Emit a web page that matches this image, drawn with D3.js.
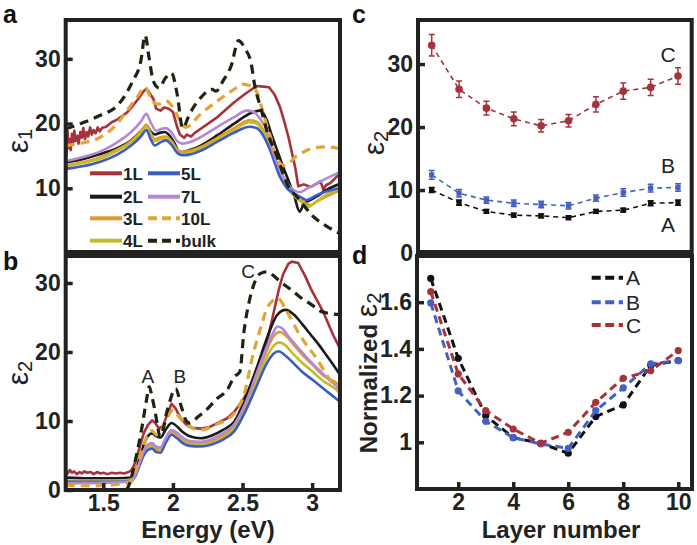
<!DOCTYPE html>
<html><head><meta charset="utf-8">
<script src="https://cdn.jsdelivr.net/npm/d3@7"></script>
<style>body{margin:0;background:#fff} svg{display:block} text{font-family:"Liberation Sans",Arial,sans-serif}</style>
</head><body><svg id="chart" width="697" height="545"></svg>
<script>
// ---------- DATA ----------
const energyTicks = [1.5, 2, 2.5, 3];
const eps1Ticks = [10, 20, 30];
const eps2Ticks = [0, 10, 20, 30];
const layerTicks = [2, 4, 6, 8, 10];
const normTicks = [1, 1.2, 1.4, 1.6];
const seriesNames = ["1L", "2L", "3L", "4L", "5L", "7L", "10L", "bulk"];
const seriesColors = ["#a8323a", "#1a1a1a", "#e0992a", "#c4ba2c", "#3b5cc6", "#b489d4", "#e3a436", "#1d2510"];
const seriesDashed = [false, false, false, false, false, false, true, true];

// panel a : epsilon1 vs energy (eV)
const e1_1L = [[1.23,17.8],[1.235,15.0],[1.243,18.9],[1.25,16.2],[1.258,17.6],[1.266,15.9],[1.275,18.4],[1.283,17.1],[1.292,18.9],[1.30,17.3],[1.312,18.1],[1.322,16.9],[1.335,18.7],[1.345,17.8],[1.356,19.3],[1.368,17.6],[1.38,18.7],[1.392,18.0],[1.405,19.4],[1.418,18.3],[1.43,19.0],[1.445,18.5],[1.46,19.4],[1.475,18.8],[1.49,19.3],[1.52,19.5],[1.56,20.2],[1.6,20.6],[1.67,21.7],[1.74,23.5],[1.79,25.0],[1.81,25.4],[1.83,24.8],[1.86,23.8],[1.88,22.3],[1.91,22.0],[1.94,22.5],[1.97,22.3],[2.0,21.8],[2.03,19.5],[2.05,18.3],[2.08,17.8],[2.1,18.3],[2.13,18.0],[2.16,18.6],[2.2,19.2],[2.32,21.0],[2.44,23.3],[2.52,24.6],[2.6,25.8],[2.65,25.7],[2.69,25.6],[2.73,24.5],[2.77,22.5],[2.8,20.3],[2.83,17.9],[2.86,15.0],[2.88,13.0],[2.9,10.3],[2.94,10.6],[2.99,10.2],[3.04,10.8],[3.06,11.1],[3.08,9.8],[3.1,10.5],[3.13,10.8],[3.2,12.3]];
const e1_2L = [[1.23,14.0],[1.35,14.5],[1.48,15.3],[1.6,16.2],[1.7,17.4],[1.77,18.8],[1.81,19.7],[1.84,18.8],[1.87,18.3],[1.91,18.6],[1.94,18.7],[1.97,18.3],[2.01,17.0],[2.04,15.8],[2.07,15.6],[2.12,15.9],[2.2,16.6],[2.32,18.2],[2.44,20.0],[2.57,21.7],[2.63,22.0],[2.675,20.5],[2.71,18.2],[2.75,15.8],[2.79,13.4],[2.83,11.2],[2.87,8.9],[2.91,6.4],[2.94,7.6],[2.97,8.0],[3.03,8.7],[3.1,9.7],[3.2,10.7]];
const e1_3L = [[1.23,13.5],[1.35,14.0],[1.48,14.8],[1.6,16.0],[1.7,17.3],[1.77,18.8],[1.81,19.8],[1.84,18.5],[1.87,17.6],[1.91,17.9],[1.95,18.0],[1.99,17.3],[2.03,16.0],[2.07,15.6],[2.12,15.8],[2.2,16.4],[2.32,17.8],[2.44,19.3],[2.55,20.5],[2.6,20.3],[2.65,19.0],[2.7,16.5],[2.75,13.5],[2.8,11.0],[2.87,8.9],[2.93,8.0],[2.99,7.4],[3.03,7.9],[3.1,8.7],[3.2,9.7]];
const e1_4L = [[1.23,13.4],[1.35,13.9],[1.48,14.6],[1.6,15.8],[1.7,17.1],[1.77,18.5],[1.81,19.5],[1.84,18.2],[1.87,17.3],[1.91,17.6],[1.95,17.7],[1.99,17.0],[2.03,15.7],[2.07,15.3],[2.12,15.5],[2.2,16.1],[2.32,17.5],[2.44,19.0],[2.55,20.2],[2.6,20.0],[2.65,18.7],[2.7,16.2],[2.75,13.3],[2.8,10.8],[2.87,8.8],[2.93,7.8],[2.97,7.1],[3.02,7.8],[3.1,9.0],[3.2,10.0]];
const e1_5L = [[1.23,13.0],[1.35,13.4],[1.48,14.1],[1.6,15.2],[1.7,16.6],[1.77,18.0],[1.81,19.0],[1.84,17.6],[1.87,16.6],[1.91,17.1],[1.95,17.4],[1.99,16.7],[2.03,15.5],[2.07,15.1],[2.12,15.2],[2.2,15.8],[2.32,17.2],[2.44,18.6],[2.55,19.5],[2.6,19.3],[2.65,18.1],[2.7,15.8],[2.77,11.7],[2.82,10.0],[2.87,9.2],[2.92,8.6],[2.96,8.2],[3.03,8.9],[3.1,9.5],[3.2,10.0]];
const e1_7L = [[1.23,14.2],[1.35,14.8],[1.48,15.7],[1.6,17.1],[1.7,18.7],[1.77,20.3],[1.81,21.5],[1.84,20.2],[1.88,18.9],[1.92,19.2],[1.95,19.3],[1.99,18.6],[2.03,17.3],[2.07,16.9],[2.12,17.1],[2.2,17.9],[2.32,19.5],[2.44,21.0],[2.53,22.0],[2.58,21.8],[2.62,20.9],[2.675,18.9],[2.72,15.5],[2.77,12.8],[2.82,10.8],[2.87,9.7],[2.91,9.4],[2.96,9.9],[3.01,10.5],[3.1,11.5],[3.2,12.5]];
const e1_10L = [[1.23,16.6],[1.35,17.0],[1.48,17.9],[1.6,20.0],[1.67,22.0],[1.75,24.3],[1.80,25.6],[1.85,23.5],[1.89,23.0],[1.95,23.5],[2.0,22.5],[2.05,20.5],[2.09,19.4],[2.2,21.5],[2.32,23.5],[2.44,25.3],[2.5,26.1],[2.56,25.8],[2.61,24.5],[2.65,21.5],[2.7,18.0],[2.75,14.5],[2.8,13.5],[2.89,15.0],[3.01,16.2],[3.1,16.4],[3.2,16.1]];
const e1_bulk = [[1.23,19.2],[1.35,20.1],[1.47,21.2],[1.61,23.0],[1.71,26.5],[1.77,29.7],[1.80,33.6],[1.83,30.0],[1.86,26.5],[1.90,25.5],[1.945,27.0],[1.99,27.8],[2.03,24.6],[2.07,19.3],[2.12,21.5],[2.2,24.0],[2.28,25.3],[2.31,25.0],[2.36,26.6],[2.42,29.0],[2.47,32.8],[2.52,31.5],[2.56,29.5],[2.59,25.6],[2.63,22.5],[2.675,18.9],[2.75,14.8],[2.82,10.7],[2.91,8.2],[3.01,5.6],[3.1,4.2],[3.2,3.0]];

// panel b : epsilon2 vs energy (eV)
const e2_1L = [[1.23,2.7],[1.245,2.4],[1.26,2.9],[1.275,2.5],[1.29,2.7],[1.31,2.3],[1.33,2.6],[1.345,2.4],[1.365,2.7],[1.385,2.5],[1.41,2.6],[1.43,2.3],[1.455,2.6],[1.48,2.4],[1.50,2.5],[1.53,2.3],[1.56,2.5],[1.59,2.4],[1.62,2.5],[1.65,2.4],[1.68,2.6],[1.70,2.8],[1.72,3.5],[1.74,4.8],[1.77,6.8],[1.79,8.2],[1.82,9.4],[1.85,10.1],[1.87,9.8],[1.9,8.9],[1.93,9.3],[1.96,11.0],[1.99,12.5],[2.02,11.8],[2.05,10.6],[2.09,9.6],[2.14,9.0],[2.2,8.9],[2.26,9.1],[2.32,9.7],[2.39,10.4],[2.44,11.3],[2.51,13.3],[2.57,15.5],[2.63,18.1],[2.68,21.8],[2.72,25.4],[2.76,29.0],[2.79,31.2],[2.83,32.8],[2.855,33.1],[2.9,32.9],[2.95,31.0],[2.99,29.2],[3.04,27.3],[3.08,25.8],[3.12,23.9],[3.15,22.5],[3.2,20.5]];
const e2_2L = [[1.23,1.8],[1.4,1.7],[1.6,1.7],[1.7,1.8],[1.73,2.8],[1.76,4.6],[1.79,6.5],[1.82,7.8],[1.85,8.2],[1.88,7.8],[1.91,7.6],[1.95,8.8],[1.99,9.7],[2.03,9.2],[2.07,8.4],[2.12,7.8],[2.2,7.5],[2.28,7.9],[2.36,8.7],[2.44,9.9],[2.53,13.8],[2.6,17.6],[2.675,22.0],[2.72,24.3],[2.75,25.4],[2.81,26.1],[2.87,25.4],[2.93,24.0],[2.99,22.5],[3.05,21.0],[3.1,19.6],[3.15,18.2],[3.2,16.7]];
const e2_3L = [[1.23,1.3],[1.4,1.3],[1.6,1.3],[1.7,1.5],[1.73,2.3],[1.76,4.0],[1.79,5.6],[1.82,6.5],[1.85,6.6],[1.88,6.1],[1.91,6.0],[1.95,7.3],[1.99,8.4],[2.03,8.0],[2.07,7.3],[2.12,6.9],[2.2,6.8],[2.28,7.1],[2.36,7.9],[2.44,9.1],[2.53,12.5],[2.6,16.3],[2.67,20.0],[2.72,22.2],[2.77,22.9],[2.81,22.4],[2.87,21.0],[2.93,19.6],[3.0,18.2],[3.08,16.6],[3.15,15.8],[3.2,15.2]];
const e2_4L = [[1.23,1.3],[1.4,1.3],[1.6,1.3],[1.7,1.4],[1.73,2.2],[1.76,3.8],[1.79,5.4],[1.82,6.2],[1.85,6.3],[1.88,5.8],[1.91,5.8],[1.95,7.1],[1.99,8.1],[2.03,7.7],[2.07,7.0],[2.12,6.6],[2.2,6.5],[2.28,6.8],[2.36,7.6],[2.44,8.8],[2.53,12.2],[2.6,15.7],[2.67,19.1],[2.72,20.8],[2.76,21.4],[2.8,21.1],[2.86,19.8],[2.93,18.4],[3.0,17.2],[3.08,15.8],[3.15,14.9],[3.2,14.2]];
const e2_5L = [[1.23,1.2],[1.4,1.2],[1.6,1.2],[1.7,1.3],[1.73,2.0],[1.76,3.5],[1.79,5.0],[1.82,5.8],[1.85,6.0],[1.88,5.5],[1.91,5.4],[1.95,6.9],[1.99,8.0],[2.03,7.5],[2.07,6.8],[2.12,6.4],[2.2,6.3],[2.28,6.6],[2.36,7.3],[2.44,8.5],[2.53,11.8],[2.6,15.0],[2.67,18.2],[2.72,19.7],[2.76,20.1],[2.8,19.6],[2.86,18.5],[2.93,17.1],[3.0,16.0],[3.08,14.7],[3.15,13.6],[3.2,12.8]];
const e2_7L = [[1.23,1.0],[1.4,1.0],[1.6,1.1],[1.7,1.3],[1.73,2.2],[1.76,3.9],[1.79,5.6],[1.82,6.6],[1.85,6.8],[1.88,6.3],[1.91,6.2],[1.95,7.6],[1.99,8.7],[2.03,8.3],[2.07,7.6],[2.12,7.1],[2.2,7.0],[2.28,7.4],[2.36,8.2],[2.44,9.5],[2.53,13.0],[2.6,16.8],[2.67,20.5],[2.72,22.8],[2.75,23.7],[2.78,23.5],[2.84,22.0],[2.9,20.6],[2.97,19.0],[3.05,17.4],[3.12,16.0],[3.2,14.7]];
const e2_10L = [[1.23,0.7],[1.4,0.6],[1.6,0.8],[1.7,1.2],[1.73,2.5],[1.76,4.5],[1.79,6.5],[1.82,8.0],[1.85,8.6],[1.88,8.0],[1.91,8.3],[1.95,10.0],[2.0,11.6],[2.04,10.7],[2.1,9.4],[2.2,8.7],[2.3,9.4],[2.44,11.1],[2.51,13.8],[2.58,20.0],[2.63,23.5],[2.675,26.3],[2.72,27.5],[2.75,27.8],[2.82,25.8],[2.91,22.5],[3.03,19.1],[3.12,16.2],[3.2,14.0]];
const e2_bulk = [[1.23,0.0],[1.5,0.0],[1.66,0.0],[1.68,0.5],[1.73,4.3],[1.77,8.2],[1.81,13.0],[1.83,15.0],[1.85,13.5],[1.87,11.6],[1.91,7.7],[1.96,11.6],[2.02,14.7],[2.06,12.1],[2.1,9.9],[2.12,9.7],[2.18,10.6],[2.24,11.6],[2.32,13.3],[2.39,14.5],[2.44,16.4],[2.48,17.1],[2.51,22.9],[2.55,27.5],[2.58,29.7],[2.63,31.4],[2.675,31.6],[2.72,31.1],[2.77,30.2],[2.85,29.0],[2.91,28.0],[3.0,26.8],[3.06,25.9],[3.12,25.6],[3.2,25.4]];

// panel c : epsilon2 at peaks A, B, C vs layer number
const layers = [1, 2, 3, 4, 5, 6, 7, 8, 9, 10];
const peakA = [10.0, 8.0, 6.6, 6.0, 5.9, 5.6, 6.6, 6.8, 7.9, 8.0];
const peakB = [12.4, 9.5, 8.4, 7.9, 7.7, 7.5, 8.7, 9.6, 10.3, 10.4];
const peakC = [33.0, 26.0, 23.0, 21.3, 20.2, 21.0, 23.6, 25.7, 26.3, 28.1];
const errA = [0.4, 0.4, 0.3, 0.3, 0.3, 0.3, 0.3, 0.3, 0.4, 0.4];
const errB = [0.7, 0.6, 0.5, 0.5, 0.5, 0.5, 0.5, 0.6, 0.6, 0.6];
const errC = [1.7, 1.3, 1.1, 1.1, 1.0, 1.0, 1.2, 1.3, 1.3, 1.3];

// panel d : normalized epsilon2
const normA = [1.702, 1.36, 1.114, 1.02, 0.996, 0.953, 1.11, 1.16, 1.33, 1.35];
const normB = [1.597, 1.22, 1.09, 1.02, 0.993, 0.974, 1.136, 1.233, 1.336, 1.35];
const normC = [1.645, 1.293, 1.136, 1.057, 0.996, 1.043, 1.171, 1.274, 1.307, 1.393];
const peakNames = ["A", "B", "C"];
const peakColors = ["#111111", "#4560c4", "#a8323a"];

// ---------- DRAWING ----------
const svg = d3.select("#chart");
const FONT = '"Liberation Sans", Arial, sans-serif';
let clipId = 0;

function makePanel(box, xdom, ydom) {
  const x = d3.scaleLinear().domain(xdom).range([box.x0, box.x1]);
  const y = d3.scaleLinear().domain(ydom).range([box.yb, box.yt]);
  const id = "clip" + (clipId++);
  svg.append("clipPath").attr("id", id).append("rect")
    .attr("x", box.x0).attr("y", box.fy0).attr("width", box.x1 - box.x0).attr("height", box.fy1 - box.fy0);
  const g = svg.append("g");
  const plot = g.append("g").attr("clip-path", `url(#${id})`);
  return {x, y, g, plot, box};
}
function frame(p) {
  const b = p.box;
  p.g.append("rect").attr("x", b.x0).attr("y", b.fy0).attr("width", b.x1 - b.x0).attr("height", b.fy1 - b.fy0)
    .attr("fill", "none").attr("stroke", "#222").attr("stroke-width", 4);
}
function yAxis(p, ticks, fmt) {
  const ax = d3.axisLeft(p.y).tickValues(ticks).tickSizeInner(-7).tickSizeOuter(0).tickPadding(5)
    .tickFormat(fmt || d3.format("d"));
  const ga = p.g.append("g").attr("transform", `translate(${p.box.x0},0)`).call(ax);
  ga.select(".domain").remove();
  ga.selectAll(".tick line").attr("stroke", "#222").attr("stroke-width", 3.5);
  ga.selectAll(".tick text").attr("font-family", FONT).attr("font-size", 23).attr("font-weight", "bold").attr("fill", "#222");
}
function xAxis(p, ticks, fmt) {
  const ax = d3.axisBottom(p.x).tickValues(ticks).tickSizeInner(-7).tickSizeOuter(0).tickPadding(5)
    .tickFormat(fmt || (d => d));
  const ga = p.g.append("g").attr("transform", `translate(0,${p.box.fy1})`).call(ax);
  ga.select(".domain").remove();
  ga.selectAll(".tick line").attr("stroke", "#222").attr("stroke-width", 3.5);
  ga.selectAll(".tick text").attr("font-family", FONT).attr("font-size", 23).attr("font-weight", "bold").attr("fill", "#222");
}
function epsLabel(cx, cy, sub, prefix) {
  const t = svg.append("text").attr("transform", `translate(${cx},${cy}) rotate(-90)`)
    .attr("text-anchor", "middle").attr("font-family", FONT).attr("fill", "#222");
  if (prefix) t.append("tspan").attr("font-size", 24).attr("font-weight", "bold").text(prefix + " ");
  t.append("tspan").attr("font-size", 30).text("ε");
  t.append("tspan").attr("font-size", 20).attr("dy", 4).text(sub);
}
function panelLetter(x, y, s) {
  svg.append("text").attr("x", x).attr("y", y).attr("font-family", FONT).attr("font-size", 25)
    .attr("font-weight", "bold").attr("fill", "#111").text(s);
}

const spectraA = [e1_1L, e1_2L, e1_3L, e1_4L, e1_5L, e1_7L, e1_10L, e1_bulk];
const spectraB = [e2_1L, e2_2L, e2_3L, e2_4L, e2_5L, e2_7L, e2_10L, e2_bulk];

function drawSpectra(p, list) {
  list.forEach((d, i) => {
    const line = d3.line().x(v => p.x(v[0])).y(v => p.y(v[1]))
      .curve(i === 0 ? d3.curveLinear : d3.curveMonotoneX);
    p.plot.append("path").datum(d).attr("d", line).attr("fill", "none")
      .attr("stroke", seriesColors[i]).attr("stroke-width", seriesDashed[i] ? 3.2 : 2.6)
      .attr("stroke-dasharray", seriesDashed[i] ? "9,6" : null)
      .attr("stroke-linejoin", "round");
  });
}

// Panel a
const pa = makePanel({x0: 65.7, x1: 340, yb: 253, yt: 20, fy0: 20, fy1: 252}, [1.23, 3.2], [0, 36]);
drawSpectra(pa, spectraA);
frame(pa);
yAxis(pa, eps1Ticks);
seriesNames.forEach((n, i) => {
  const col = Math.floor(i / 4), row = i % 4;
  const lx0 = col === 0 ? 90 : 148, lx1 = lx0 + 32;
  const ly = [173.3, 196.7, 218.3, 240.7][row];
  pa.g.append("line").attr("x1", lx0).attr("x2", lx1).attr("y1", ly).attr("y2", ly)
    .attr("stroke", seriesColors[i]).attr("stroke-width", 4)
    .attr("stroke-dasharray", seriesDashed[i] ? "9,5" : null);
  pa.g.append("text").attr("x", lx1 + 1).attr("y", ly + 6.5).attr("font-family", FONT)
    .attr("font-size", 17).attr("font-weight", "bold").attr("fill", "#222").text(n);
});

// Panel b
const pb = makePanel({x0: 65.7, x1: 340, yb: 490, yt: 255.4, fy0: 256, fy1: 490}, [1.23, 3.2], [0, 34]);
drawSpectra(pb, spectraB);
frame(pb);
yAxis(pb, eps2Ticks);
xAxis(pb, energyTicks, d => d);
[["A", 1.82, 383], ["B", 2.05, 383], ["C", 2.54, 278]].forEach(([s, e, yy]) => {
  pb.g.append("text").attr("x", pb.x(e)).attr("y", yy).attr("text-anchor", "middle")
    .attr("font-family", FONT).attr("font-size", 19).attr("fill", "#222").text(s);
});

// Panel c
const pc = makePanel({x0: 418, x1: 691.7, yb: 253, yt: 20, fy0: 20, fy1: 252}, [0.5, 10.5], [0, 37]);
const cSeries = [[peakA, errA], [peakB, errB], [peakC, errC]];
cSeries.forEach(([vals, errs], k) => {
  const col = peakColors[k];
  const line = d3.line().x((v, i) => pc.x(layers[i])).y(v => pc.y(v));
  pc.plot.append("path").datum(vals).attr("d", line).attr("fill", "none").attr("stroke", col)
    .attr("stroke-width", 1.6).attr("stroke-dasharray", "5,4");
  const gE = pc.plot.append("g").attr("stroke", col).attr("stroke-width", 1.5);
  vals.forEach((v, i) => {
    const xx = pc.x(layers[i]), ylo = pc.y(v - errs[i]), yhi = pc.y(v + errs[i]);
    gE.append("line").attr("x1", xx).attr("x2", xx).attr("y1", ylo).attr("y2", yhi);
    gE.append("line").attr("x1", xx - 3).attr("x2", xx + 3).attr("y1", ylo).attr("y2", ylo);
    gE.append("line").attr("x1", xx - 3).attr("x2", xx + 3).attr("y1", yhi).attr("y2", yhi);
  });
  vals.forEach((v, i) => {
    const xx = pc.x(layers[i]), yy = pc.y(v);
    if (k === 2) pc.plot.append("circle").attr("cx", xx).attr("cy", yy).attr("r", 3.8).attr("fill", col);
    else pc.plot.append("rect").attr("x", xx - 2.6).attr("y", yy - 2.6).attr("width", 5.2).attr("height", 5.2).attr("fill", col);
  });
});
frame(pc);
yAxis(pc, eps2Ticks);
[["C", 62], ["B", 173], ["A", 232]].forEach(([s, yy]) => {
  pc.g.append("text").attr("x", 668).attr("y", yy).attr("text-anchor", "middle")
    .attr("font-family", FONT).attr("font-size", 21).attr("fill", "#222").text(s);
});

// Panel d
const pd = makePanel({x0: 417, x1: 692, yb: 489, yt: 255.5, fy0: 256, fy1: 489}, [0.5, 10.5], [0.8, 1.8]);
[normA, normB, normC].forEach((vals, k) => {
  const col = peakColors[k];
  const line = d3.line().x((v, i) => pd.x(layers[i])).y(v => pd.y(v));
  pd.plot.append("path").datum(vals).attr("d", line).attr("fill", "none").attr("stroke", col)
    .attr("stroke-width", 3).attr("stroke-dasharray", "8,5");
  pd.plot.selectAll(null).data(vals).enter().append("circle")
    .attr("cx", (v, i) => pd.x(layers[i])).attr("cy", v => pd.y(v)).attr("r", 3.6).attr("fill", col);
});
frame(pd);
yAxis(pd, normTicks, d => d === 1 ? "1" : d3.format(".1f")(d));
xAxis(pd, layerTicks, d3.format("d"));
peakNames.forEach((n, k) => {
  const ly = [277.7, 302.3, 325][k];
  pd.g.append("line").attr("x1", 591.7).attr("x2", 623).attr("y1", ly).attr("y2", ly)
    .attr("stroke", peakColors[k]).attr("stroke-width", 4).attr("stroke-dasharray", "9,4.5");
  pd.g.append("text").attr("x", 626).attr("y", ly + 7.5).attr("font-family", FONT)
    .attr("font-size", 21).attr("fill", "#222").text(n);
});

// Axis titles
svg.append("text").attr("x", 208).attr("y", 538).attr("text-anchor", "middle").attr("font-family", FONT)
  .attr("font-size", 24).attr("font-weight", "bold").attr("fill", "#222").text("Energy (eV)");
svg.append("text").attr("x", 561).attr("y", 538).attr("text-anchor", "middle").attr("font-family", FONT)
  .attr("font-size", 24).attr("font-weight", "bold").attr("fill", "#222").text("Layer number");
epsLabel(28, 141, "1");
epsLabel(28, 373, "2");
epsLabel(384, 143, "2");
epsLabel(377, 373, "2", "Normalized");

// Panel letters
panelLetter(3, 23, "a");
panelLetter(3, 270, "b");
panelLetter(352, 23, "c");
panelLetter(352, 264, "d");
</script></body></html>
